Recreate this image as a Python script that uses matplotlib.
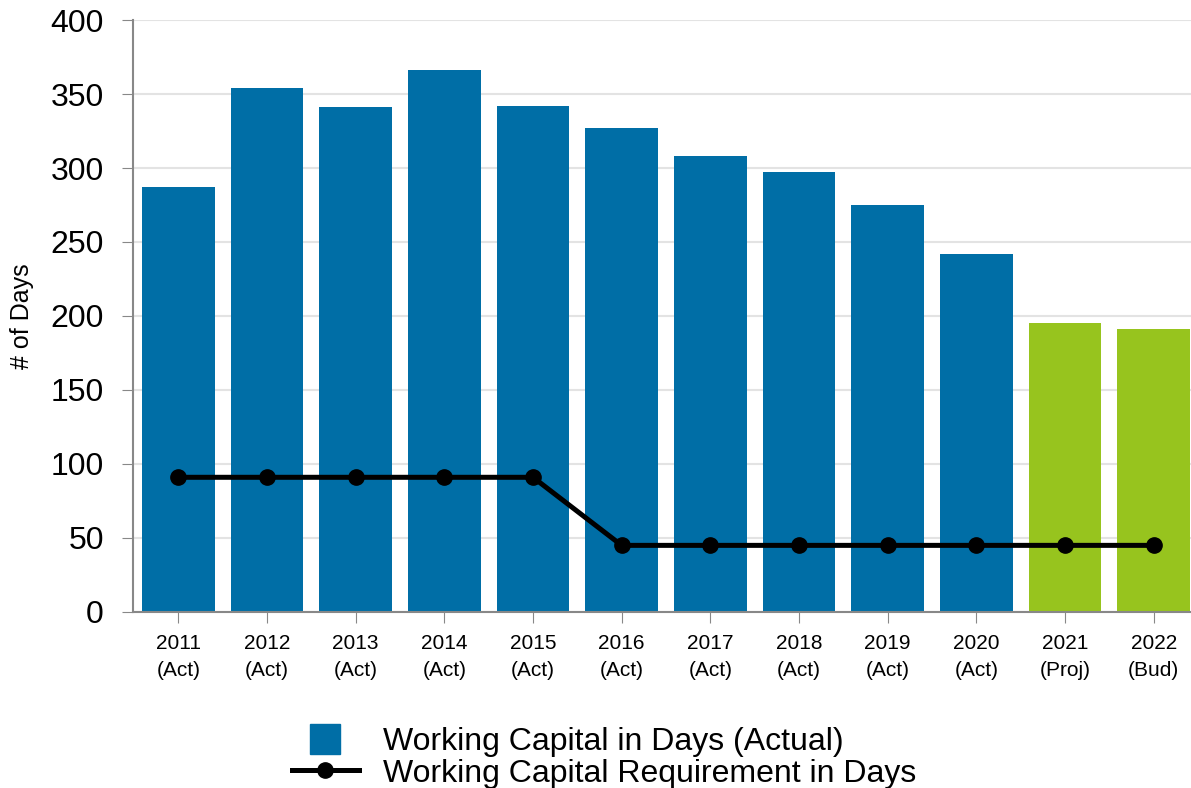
import numpy as np
import matplotlib.pyplot as plt
from matplotlib.lines import Line2D

plt.rcParams['font.family'] = ['Liberation Sans', 'DejaVu Sans']

years = ["2011\n(Act)", "2012\n(Act)", "2013\n(Act)", "2014\n(Act)", "2015\n(Act)", "2016\n(Act)",
         "2017\n(Act)", "2018\n(Act)", "2019\n(Act)", "2020\n(Act)", "2021\n(Proj)", "2022\n(Bud)"]
wc_days = [287, 354, 341, 366, 342, 327, 308, 297, 275, 242, 195, 191]
wc_requirement = [91, 91, 91, 91, 91, 45, 45, 45, 45, 45, 45, 45]
is_actual = [True] * 10 + [False] * 2

blue = "#006ea6"
green = "#97c41e"

fig = plt.figure(figsize=(11.91, 7.88), dpi=100)
ax = fig.add_axes([0.1117, 0.2234, 0.8883, 0.7512])

x = np.arange(len(years))
colors = [blue if a else green for a in is_actual]
bars = ax.bar(x, wc_days, width=0.82, color=colors, zorder=2)
line, = ax.plot(x, wc_requirement, color="black", lw=3.6, marker="o", markersize=11, zorder=3)

ax.set_xlim(-0.51, 11.42)
ax.set_ylim(0, 400)
ax.set_yticks(np.arange(0, 401, 50))
ax.set_xticks(x)
ax.set_xticklabels(years, fontsize=15, linespacing=1.55)
ax.tick_params(axis="y", labelsize=23, length=8, color="#888888", pad=13)
ax.tick_params(axis="x", length=8, color="#888888", pad=8)
ax.yaxis.grid(True, color="#e3e3e3", lw=1.5, zorder=0)
ax.set_axisbelow(True)
for side in ["top", "right"]:
    ax.spines[side].set_visible(False)
for side in ["left", "bottom"]:
    ax.spines[side].set_color("#888888")
    ax.spines[side].set_linewidth(1.5)
ax.set_ylabel("# of Days", fontsize=18, labelpad=12)

# square swatch for the bar series in the legend
bar_key = Line2D([], [], linestyle="none", marker="s", markersize=22, color=blue)
fig.legend([bar_key, line],
           ["Working Capital in Days (Actual)", "Working Capital Requirement in Days"],
           loc="lower center", bbox_to_anchor=(0.507, -0.019), ncol=1, frameon=False,
           fontsize=23, handlelength=2.1, handletextpad=0.75, labelspacing=0.05,
           borderaxespad=0.05)

fig.savefig("out.png", dpi=100)
